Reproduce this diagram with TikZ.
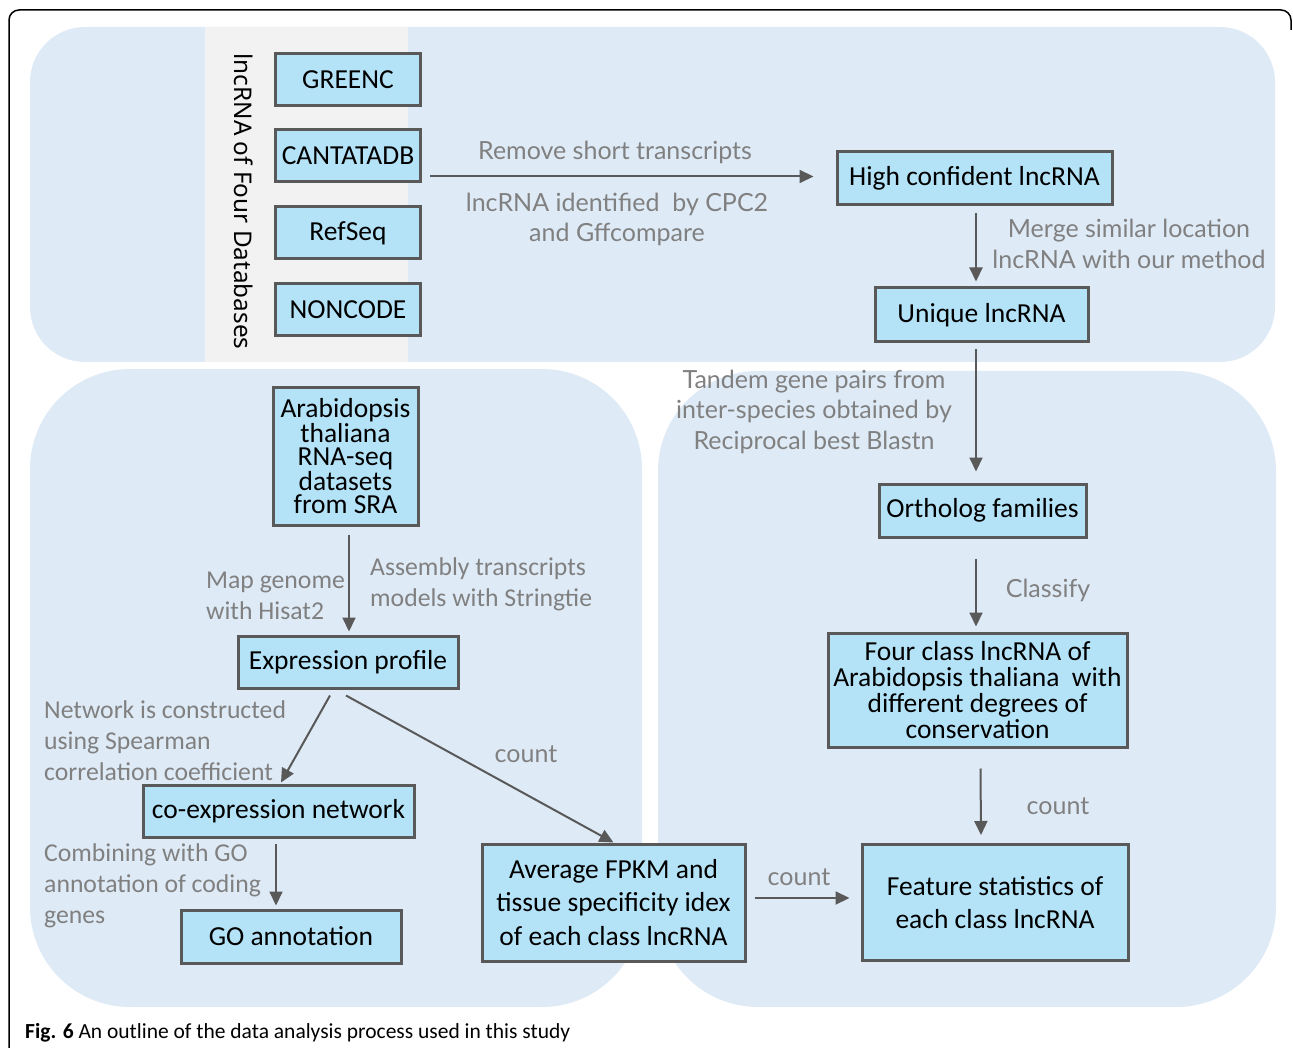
\documentclass[tikz,border=0pt]{standalone}
\usepackage{fontspec}
\setmainfont{Carlito}
\newfontfamily\labfont{Lato}
\newfontfamily\vertfont{Noto Sans}
\usetikzlibrary{arrows.meta,calc}
\definecolor{panelblue}{RGB}{222,234,246}
\definecolor{stripgray}{RGB}{242,242,242}
\definecolor{boxfill}{RGB}{180,227,248}
\definecolor{boxline}{RGB}{89,89,89}
\definecolor{arrowgray}{RGB}{89,89,89}
\definecolor{labgray}{RGB}{128,128,128}
\begin{document}
\begin{tikzpicture}[x=1pt,y=-1pt,
 box/.style={draw=boxline, line width=3pt, fill=boxfill, inner sep=0pt, align=center, font=\fontsize{27.5}{27.5}\selectfont},
 arr/.style={draw=arrowgray, line width=2pt, -{Triangle[length=14pt,width=13pt]}},
 ylab/.style={text=labgray, align=center, font=\labfont\fontsize{25}{30.5}\selectfont, inner sep=0pt},
 clab/.style={text=labgray, align=left, anchor=west, font=\fontsize{25.7}{31}\selectfont, inner sep=0pt}]
\useasboundingbox (0,0) rectangle (1293,1048);
% frame
\draw[line width=1.5pt, rounded corners=10pt] (9,1048) -- (9,10) -- (1291,10) -- (1291,30);
% panels
\fill[panelblue, rounded corners=55pt] (30,27) rectangle (1275,362);
\fill[stripgray] (205,27) rectangle (408,362);
\fill[panelblue, rounded corners=100pt] (30,369) rectangle (642,1007);
\fill[panelblue, rounded corners=100pt] (658,371) rectangle (1276,1007);
% vertical title
\node[font=\vertfont\fontsize{24.3}{24.3}\selectfont, rotate=-90, inner sep=0pt] (vt) at (244,201.5) {lncRNA of Four Databases};
% boxes
\node[box, minimum width=145, minimum height=52] (greenc) at (348,80) {GREENC};
\node[box, minimum width=145, minimum height=52] (cant) at (348,156) {CANTATADB};
\node[box, minimum width=145, minimum height=52] (refseq) at (348,233) {RefSeq};
\node[box, minimum width=145, minimum height=52] (noncode) at (348,310) {NONCODE};
\node[box, minimum width=275, minimum height=53] (high) at (974.5,178.5) {High confident lncRNA};
\node[box, minimum width=213, minimum height=54] (unique) at (981.5,315) {Unique lncRNA};
\node[box, minimum width=207, minimum height=53] (ortho) at (982.5,510.5) {Ortholog families};
\node[box, minimum width=299, minimum height=114, font=\fontsize{27.5}{25.8}\selectfont] (four) at (977.5,690) {Four class lncRNA of\\Arabidopsis thaliana\ \ with\\different degrees of\\conservation};
\node[box, minimum width=266, minimum height=116, font=\fontsize{27.5}{33}\selectfont] (feature) at (995,902.5) {Feature statistics of\\each class lncRNA};
\node[box, minimum width=145, minimum height=137, font=\fontsize{27.5}{23.5}\selectfont] (arab) at (345.5,456.5) {Arabidopsis\\thaliana\\RNA-seq\\datasets\\from SRA};
\node[box, minimum width=220, minimum height=52] (expr) at (348,662) {Expression profile};
\node[box, minimum width=271, minimum height=52] (coexp) at (278.5,811) {co-expression network};
\node[box, minimum width=220, minimum height=53] (go) at (291,936.5) {GO annotation};
\node[box, minimum width=263, minimum height=117, font=\fontsize{27.5}{33.5}\selectfont] (avg) at (613.5,902.5) {Average FPKM and\\tissue specificity idex\\of each class lncRNA};
% arrows
\draw[arr] ($(cant.east|-high.west)+(8,-2)$) -- ($(high.west)+(-22,-2)$);
\draw[arr] ($(high.south)+(1.5,7)$) -- ($(high.south|-unique.north)+(1.5,-5)$);
\draw[arr] ($(unique.south)+(-5.5,6)$) -- ($(unique.south|-ortho.north)+(-5.5,-11)$);
\draw[arr] ($(ortho.south)+(-6.5,20)$) -- ($(ortho.south|-four.north)+(-6.5,-5)$);
\draw[arr] ($(four.south)+(3,20)$) -- ($(four.south|-feature.north)+(3.5,-8)$);
\draw[arr] ($(arab.south)+(3.5,8)$) -- ($(arab.south|-expr.north)+(3.5,-3)$);
\draw[arr] ($(expr.south)+(-18,6)$) -- ($(coexp.north)+(2.5,-1)$);
\draw[arr] ($(expr.south)+(-2,6)$) -- ($(avg.north)+(0,0)$);
\draw[arr] ($(coexp.south)+(-2.5,5)$) -- ($(coexp.south|-go.north)+(-2.5,-3)$);
\draw[arr] ($(avg.east)+(8,-4.5)$) -- ($(feature.west|-avg.east)+(-11,-4.5)$);
% labels
\node[ylab] (lrem) at (615,152) {Remove short transcripts};
\node[ylab] (lcpc) at (617,219.5) {lncRNA identified\ \ by CPC2\\and Gffcompare};
\node[ylab] (lmerge) at (1129,244) {Merge similar location\\lncRNA with our method};
\node[ylab] (ltandem) at (814,411.5) {Tandem gene pairs from\\inter-species obtained by\\Reciprocal best Blastn};
\node[ylab] (lclass) at (1048,590) {Classify};
\node[ylab] (lc1) at (526,754) {count};
\node[ylab] (lc2) at (1058,806) {count};
\node[ylab] (lc3) at (799,877) {count};
\node[clab] (lmap) at (206,596) {Map genome\\with Hisat2};
\node[clab] (lasm) at (370,584.5) {Assembly transcripts\\models with Stringtie};
\node[clab] (lnet) at (44,741) {Network is constructed\\using Spearman\\correlation coefficient};
\node[clab] (lcomb) at (44,885.5) {Combining with GO\\annotation of coding\\genes};
% caption
\node[anchor=base west, inner sep=0pt, font=\fontsize{21.5}{22}\selectfont] (cap) at (25,1038) {\textbf{Fig. 6} An outline of the data analysis process used in this study};
\end{tikzpicture}
\end{document}
